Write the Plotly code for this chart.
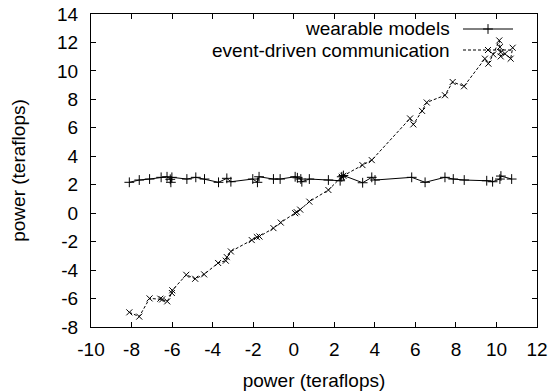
import plotly.graph_objects as go

# wearable models (solid, '+')
wear_x = [-8.11, -7.62, -7.11, -6.54, -6.25, -6.09, -6.06, -6.01, -5.27, -4.83, -4.40, -3.71, -3.30, -3.10,
          -2.02, -1.79, -1.71, -1.00, -0.67, 0.07, 0.18, 0.35, 0.40, 0.77, 1.71, 2.29, 2.37, 2.45, 3.40,
          3.85, 4.01, 5.82, 6.48, 7.46, 7.87, 8.41, 9.52, 9.81, 10.17, 10.22, 10.75]
wear_y = [2.17, 2.33, 2.40, 2.52, 2.56, 2.38, 2.17, 2.52, 2.40, 2.52, 2.40, 2.17, 2.45, 2.21,
          2.40, 2.17, 2.56, 2.40, 2.40, 2.56, 2.49, 2.40, 2.21, 2.40, 2.33, 2.28, 2.56, 2.65, 2.14,
          2.52, 2.33, 2.52, 2.17, 2.52, 2.40, 2.33, 2.28, 2.21, 2.40, 2.61, 2.40]

# event-driven communication (dashed, 'x')
event_x = [-8.11, -7.62, -7.11, -6.58, -6.49, -6.24, -6.01, -5.99, -5.30, -4.86, -4.42, -3.73, -3.35, -3.30,
           -3.10, -2.07, -1.82, -1.69, -1.00, -0.64, 0.07, 0.15, 0.32, 0.77, 1.71, 2.37, 2.45, 3.39, 3.85,
           5.74, 5.90, 6.33, 6.56, 7.46, 7.84, 8.40, 9.43, 9.60, 9.84, 10.14, 10.17, 10.21, 10.21, 10.42,
           10.70, 10.80]
event_y = [-6.97, -7.27, -5.99, -6.01, -6.06, -6.20, -5.61, -5.42, -4.33, -4.61, -4.30, -3.50, -3.34, -3.09,
           -2.69, -1.89, -1.68, -1.64, -1.05, -0.66, 0.00, 0.07, 0.25, 0.81, 1.63, 2.56, 2.63, 3.38, 3.73,
           6.66, 6.24, 7.19, 7.78, 8.29, 9.22, 8.92, 10.86, 10.51, 11.16, 12.14, 11.67, 11.32, 11.02, 11.21,
           10.86, 11.63]

series_names = ["wearable models", "event-driven communication"]
x_ticks = list(range(-10, 13, 2))
y_ticks = list(range(-8, 15, 2))
axis_title = "power (teraflops)"

FONT = "Liberation Sans, Arial, sans-serif"
FS = 19
W, H = 555, 391
L, R, T, B = 91, 18, 14, 64

fig = go.Figure()
fig.add_trace(go.Scatter(x=wear_x, y=wear_y, mode="lines+markers", name=series_names[0],
                         line=dict(color="black", width=1),
                         marker=dict(symbol="cross-thin", size=7, line=dict(color="black", width=1))))
fig.add_trace(go.Scatter(x=event_x, y=event_y, mode="lines+markers", name=series_names[1],
                         line=dict(color="black", width=1, dash="3px,2px"),
                         marker=dict(symbol="x-thin", size=6, line=dict(color="black", width=1))))

# custom gnuplot-style key (text right, sample on the right) on an overlay axis in [0,1]
pw = W - L - R
ph = H - T - B
def fx(px):
    return (px - L) / pw
def fy(py):
    return (H - B - py) / ph

key_rows = [29, 50]
sx0, sx1 = fx(463), fx(513)
styles = [dict(dash="solid", sym="cross-thin", size=7), dict(dash="3px,2px", sym="x-thin", size=6)]
for i, name in enumerate(series_names):
    yy = fy(key_rows[i])
    fig.add_trace(go.Scatter(x=[sx0, sx1], y=[yy, yy], mode="lines", xaxis="x2", yaxis="y2",
                             showlegend=False, hoverinfo="skip",
                             line=dict(color="black", width=1, dash=styles[i]["dash"])))
    fig.add_trace(go.Scatter(x=[(sx0 + sx1) / 2], y=[yy], mode="markers", xaxis="x2", yaxis="y2",
                             showlegend=False, hoverinfo="skip",
                             marker=dict(symbol=styles[i]["sym"], size=styles[i]["size"],
                                         line=dict(color="black", width=1))))
    fig.add_annotation(x=fx(451), y=yy, xref="paper", yref="paper", text=name, showarrow=False,
                       xanchor="right", yanchor="middle", borderpad=0,
                       font=dict(family=FONT, size=FS, color="black"))

axis_common = dict(showgrid=False, zeroline=False, showline=True, linecolor="black", linewidth=1,
                   mirror="ticks", ticks="inside", ticklen=5, tickcolor="black", tickwidth=1,
                   automargin=False, tickfont=dict(family=FONT, size=FS, color="black"))

fig.update_layout(
    width=W, height=H, margin=dict(l=L, r=R, t=T, b=B),
    paper_bgcolor="white", plot_bgcolor="white", showlegend=False,
    xaxis=dict(range=[-10, 12], tickvals=x_ticks, ticktext=[str(v) for v in x_ticks],
               title=dict(text=axis_title, font=dict(family=FONT, size=FS, color="black"), standoff=14),
               ticklabelstandoff=5, **axis_common),
    yaxis=dict(range=[-8, 14], tickvals=y_ticks, ticktext=[str(v) for v in y_ticks],
               title=dict(text=axis_title, font=dict(family=FONT, size=FS, color="black"), standoff=26),
               ticklabelstandoff=8, **axis_common),
    xaxis2=dict(range=[0, 1], overlaying="x", visible=False),
    yaxis2=dict(range=[0, 1], overlaying="y", visible=False),
)

fig.write_html("out.html")
